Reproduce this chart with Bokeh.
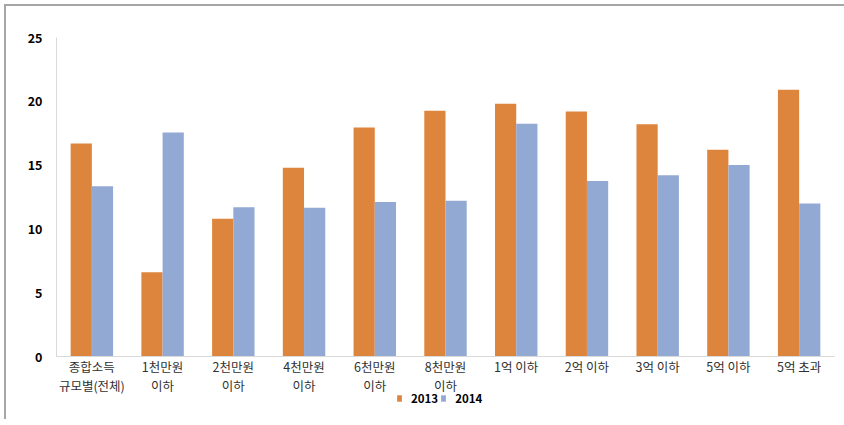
from bokeh.plotting import figure
from bokeh.models import ColumnDataSource, Legend, LegendItem, FixedTicker, Range1d
from bokeh.layouts import column
from bokeh.transform import dodge
from bokeh.embed import file_html
from bokeh.resources import INLINE

categories = ["종합소득\n규모별(전체)", "1천만원\n이하", "2천만원\n이하", "4천만원\n이하",
              "6천만원\n이하", "8천만원\n이하", "1억 이하", "2억 이하", "3억 이하",
              "5억 이하", "5억 초과"]
v2013 = [16.7, 6.6, 10.8, 14.8, 17.95, 19.25, 19.8, 19.2, 18.2, 16.2, 20.9]
v2014 = [13.35, 17.55, 11.7, 11.65, 12.1, 12.2, 18.25, 13.75, 14.2, 15.0, 12.0]
series = ["2013", "2014"]
colors = ["#DE853D", "#92A9D4"]
yticks = [0, 5, 10, 15, 20, 25]

src = ColumnDataSource(dict(cat=categories, a=v2013, b=v2014))

FONT = "Noto Sans CJK KR"
p = figure(x_range=categories, y_range=(0, 25), width=839, height=391,
           output_backend="svg", toolbar_location=None,
           min_border_left=50, min_border_right=11, min_border_top=31, min_border_bottom=30)

p.vbar(x=dodge("cat", -0.15, range=p.x_range), top="a", width=0.3, source=src,
       fill_color=colors[0], line_color=None)
p.vbar(x=dodge("cat", 0.15, range=p.x_range), top="b", width=0.3, source=src,
       fill_color=colors[1], line_color=None)

p.outline_line_color = None
p.xgrid.grid_line_color = None
p.ygrid.grid_line_color = None
p.x_range.range_padding = 0

p.yaxis.ticker = FixedTicker(ticks=yticks)
p.yaxis.axis_line_color = "#d9d9d9"
p.yaxis.major_tick_line_color = None
p.yaxis.minor_tick_line_color = None
p.yaxis.major_label_text_font = FONT
p.yaxis.major_label_text_font_style = "bold"
p.yaxis.major_label_text_font_size = "12.5px"
p.yaxis.major_label_text_color = "#000000"
p.yaxis.major_label_standoff = 8

p.xaxis.axis_line_color = "#d9d9d9"
p.xaxis.major_tick_line_color = None
p.xaxis.major_tick_out = 0
p.xaxis.major_label_text_font = FONT
p.xaxis.major_label_text_font_size = "12.5px"
p.xaxis.major_label_text_color = "#303030"
p.xaxis.major_label_standoff = 0
p.xaxis.major_label_text_line_height = 1.0

# legend strip below the chart
q = figure(width=839, height=30, x_range=Range1d(0, 1), y_range=Range1d(0, 1),
           output_backend="svg", toolbar_location=None,
           min_border=0, x_axis_type=None, y_axis_type=None)
q.outline_line_color = None
q.xgrid.grid_line_color = None
q.ygrid.grid_line_color = None
q.background_fill_alpha = 0
q.border_fill_alpha = 0
q.styles = {"margin-top": "-8px"}
lr = [q.vbar(x=[-5], top=[-5], width=0.1, fill_color=c, line_color=None) for c in colors]
legend = Legend(items=[LegendItem(label=s, renderers=[r]) for s, r in zip(series, lr)],
                orientation="horizontal", location=(340, 13),
                label_text_font=FONT, label_text_font_style="bold",
                label_text_font_size="11.5px", label_text_color="#000000",
                glyph_width=6, glyph_height=8, spacing=2, label_standoff=9,
                padding=0, margin=0, border_line_color=None, background_fill_alpha=0)
q.add_layout(legend, "center")

lay = column(p, q, spacing=0)
lay.styles = {"border-top": "2px solid #a6a6a6", "border-left": "2px solid #a6a6a6",
              "margin-left": "4px", "margin-top": "4px"}

open("out.html", "w").write(file_html(lay, INLINE))
